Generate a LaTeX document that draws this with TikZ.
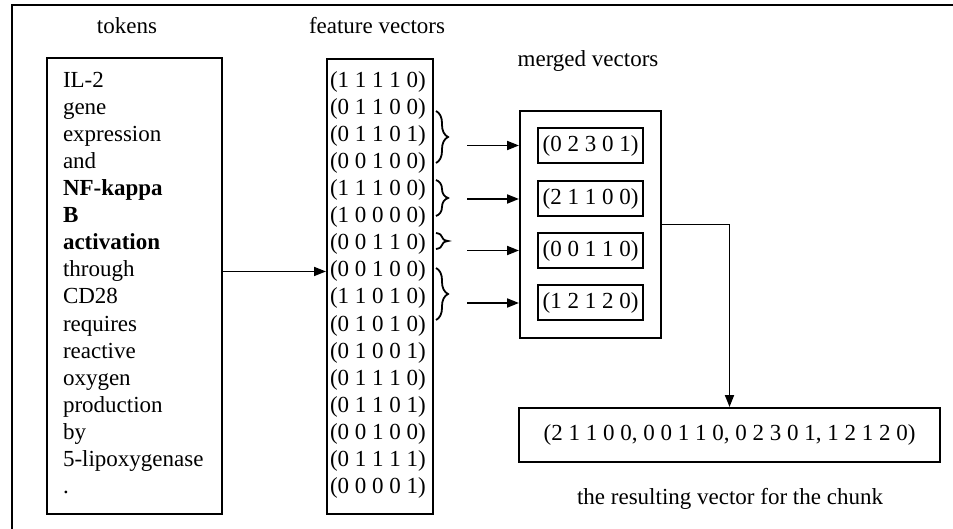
\documentclass[tikz,border=0pt]{standalone}
\usepackage{fontspec}
\setmainfont{Liberation Serif}
\usetikzlibrary{arrows.meta,decorations.pathreplacing}
\begin{document}
\begin{tikzpicture}[x=1pt,y=-1pt,
  line width=2pt,
  txt/.style={font=\fontsize{23}{27}\selectfont, inner sep=0pt},
  boxframe/.style={draw, rectangle, inner sep=0pt, line width=2pt},
  vecbox/.style={boxframe, font=\fontsize{23}{27}\selectfont, minimum width=105pt, minimum height=35pt},
  arr/.style={-{Triangle[length=12pt,width=9pt]}, line width=1.8pt},
  brc/.style={decorate, decoration={brace, amplitude=12pt}, line width=1.8pt}]
\useasboundingbox (0,0) rectangle (953,529);
% outer frame (top and left)
\coordinate (fr1) at (953,5);
\coordinate (fr2) at (12,5);
\coordinate (fr3) at (12,529);
\draw (fr1) -- (fr2) -- (fr3);
% titles
\node[txt, anchor=base] (ttok) at (127,34) {tokens};
\node[txt, anchor=base] (tfeat) at (377,34) {feature vectors};
\node[txt, anchor=base] (tmerg) at (588,67) {merged vectors};
\node[txt, anchor=base] (tres) at (730,504) {the resulting vector for the chunk};
% boxes
\node[boxframe, minimum width=175pt, minimum height=456pt] (tok) at (134.5,286) {};
\node[boxframe, minimum width=106pt, minimum height=455pt] (feat) at (380,286.5) {};
\node[boxframe, minimum width=141pt, minimum height=227pt] (merged) at (590.5,224.5) {};
% tokens
\foreach \w [count=\i] in {IL-2, gene, expression, and, \textbf{NF-kappa}, \textbf{B}, \textbf{activation}, through, CD28, requires, reactive, oxygen, production, by, 5-lipoxygenase}
  \node[txt, anchor=base west] (t\i) at (62, {88+27*(\i-1)}) {\w};
\node[txt, anchor=base west] (t16) at (62, 493) {.};
% feature vectors
\foreach \v [count=\i] in {1 1 1 1 0, 0 1 1 0 0, 0 1 1 0 1, 0 0 1 0 0, 1 1 1 0 0, 1 0 0 0 0, 0 0 1 1 0, 0 0 1 0 0, 1 1 0 1 0, 0 1 0 1 0, 0 1 0 0 1, 0 1 1 1 0, 0 1 1 0 1, 0 0 1 0 0, 0 1 1 1 1, 0 0 0 0 1}
  \node[txt, anchor=base west] (v\i) at (329, {88+27*(\i-1)}) {(\v)};
% braces
\draw[brc] (436,111) -- (436,163);
\draw[brc] (436,180) -- (436,216);
\draw[brc] (436,233) -- (436,249);
\draw[brc] (436,268) -- (436,320);
% merged vectors
\node[vecbox] (m1) at (590.5,145.5) {(0 2 3 0 1)};
\node[vecbox] (m2) at (590.5,199) {(2 1 1 0 0)};
\node[vecbox] (m3) at (590.5,250.5) {(0 0 1 1 0)};
\node[vecbox] (m4) at (590.5,303) {(1 2 1 2 0)};
% arrows into merged box
\coordinate (s) at (467,0);
\foreach \k in {1,2,3,4}
  \draw[arr] (s |- m\k) -- (merged.west |- m\k);
% token arrow
\draw[arr] (tok.east |- v8) -- (feat.west |- v8);
% result
\node[boxframe, font=\fontsize{23}{27}\selectfont, minimum width=421pt, minimum height=54pt] (res) at (729.5,435) {(2 1 1 0 0, 0 0 1 1 0, 0 2 3 0 1, 1 2 1 2 0)};
\draw[arr] (merged.east) -| (res.north);
\end{tikzpicture}
\end{document}
